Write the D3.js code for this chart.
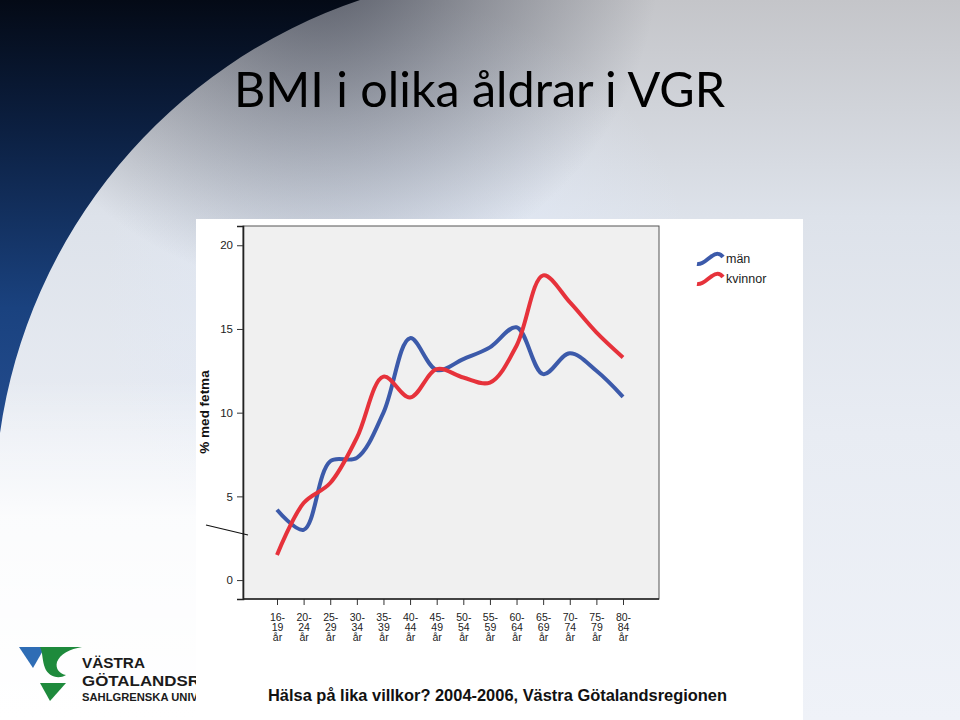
<!DOCTYPE html>
<html><head><meta charset="utf-8">
<script src="https://cdn.jsdelivr.net/npm/d3@7"></script>
<style>html,body{margin:0;padding:0;overflow:hidden;background:#fff}</style>
</head><body>
<svg id="c" width="960" height="720"></svg>
<script>
const categories = ["16-19","20-24","25-29","30-34","35-39","40-44","45-49","50-54","55-59","60-64","65-69","70-74","75-79","80-84"];
const manValues = [4.2, 3.0, 7.1, 7.3, 10.0, 14.45, 12.55, 13.2, 13.9, 15.1, 12.3, 13.55, 12.5, 10.95];
const kvinnorValues = [1.5, 4.6, 5.8, 8.5, 12.15, 10.9, 12.6, 12.1, 11.8, 14.0, 18.2, 16.6, 14.8, 13.3];
const yTicks = [0, 5, 10, 15, 20];
const seriesNames = ["män", "kvinnor"];
const seriesColors = ["#3c5aaa", "#e6323b"];

const svg = d3.select("#c");
const defs = svg.append("defs");

// slide background
const bg = defs.append("linearGradient").attr("id","base").attr("x1",0).attr("y1",0).attr("x2",0).attr("y2",1);
bg.append("stop").attr("offset",0).attr("stop-color","#c4c5c9");
bg.append("stop").attr("offset",0.3).attr("stop-color","#dde2ea");
bg.append("stop").attr("offset",0.6).attr("stop-color","#e8ecf3");
bg.append("stop").attr("offset",1).attr("stop-color","#eff2f8");
svg.append("rect").attr("width",960).attr("height",720).attr("fill","url(#base)");
const lg = defs.append("radialGradient").attr("id","bluelight").attr("gradientUnits","userSpaceOnUse")
  .attr("cx",400).attr("cy",300).attr("r",300);
lg.append("stop").attr("offset",0).attr("stop-color","#e2eaf8").attr("stop-opacity",0.9);
lg.append("stop").attr("offset",1).attr("stop-color","#e2eaf8").attr("stop-opacity",0);
svg.append("rect").attr("width",960).attr("height",720).attr("fill","url(#bluelight)");
const tg = defs.append("radialGradient").attr("id","topdark").attr("gradientUnits","userSpaceOnUse")
  .attr("cx",320).attr("cy",-50).attr("r",340);
tg.append("stop").attr("offset",0).attr("stop-color","#3f4452").attr("stop-opacity",0.85);
tg.append("stop").attr("offset",0.5).attr("stop-color","#3f4452").attr("stop-opacity",0.4);
tg.append("stop").attr("offset",1).attr("stop-color","#3f4452").attr("stop-opacity",0);
svg.append("rect").attr("width",960).attr("height",720).attr("fill","url(#topdark)");
const wg = defs.append("linearGradient").attr("id","whitebl").attr("x1",0).attr("y1",0).attr("x2",0).attr("y2",1);
wg.append("stop").attr("offset",0).attr("stop-color","#ffffff").attr("stop-opacity",0);
wg.append("stop").attr("offset",0.4).attr("stop-color","#ffffff").attr("stop-opacity",0.8);
wg.append("stop").attr("offset",1).attr("stop-color","#ffffff").attr("stop-opacity",1);
svg.append("rect").attr("x",0).attr("y",380).attr("width",300).attr("height",340).attr("fill","url(#whitebl)");

// dark arc region (outside big circle)
const dg = defs.append("linearGradient").attr("id","dark").attr("gradientUnits","userSpaceOnUse")
  .attr("x1",0).attr("y1",0).attr("x2",0).attr("y2",440);
dg.append("stop").attr("offset",0).attr("stop-color","#040a16");
dg.append("stop").attr("offset",0.3).attr("stop-color","#0c2042");
dg.append("stop").attr("offset",0.7).attr("stop-color","#1a427f");
dg.append("stop").attr("offset",1).attr("stop-color","#244d90");
const r = 536;
svg.append("path").attr("fill","url(#dark)")
  .attr("d",`M0,0 L360,0 A${r},${r} 0 0 0 0,433 Z`);

// logo
const clip = defs.append("clipPath").attr("id","logoclip");
clip.append("rect").attr("x",0).attr("y",630).attr("width",196).attr("height",90);
const logo = svg.append("g").attr("clip-path","url(#logoclip)");
logo.append("polygon").attr("points","19,647 45,647 33,668").attr("fill","#2f6db5");
logo.append("path").attr("fill","#1e8a3c")
  .attr("d","M40,647 L82,647 C70,649 60,654 57,662 C55,669 60,674 66,675 C58,680 48,676 45,668 C42,661 43,653 40,647 Z");
logo.append("polygon").attr("points","40,683 66,683 50,701").attr("fill","#1e8a3c");
logo.append("text").attr("x",82).attr("y",668).attr("font-family","Liberation Sans, Arial").attr("font-size",15)
  .attr("font-weight","bold").attr("fill","#1b1b1b").attr("textLength",63).attr("lengthAdjust","spacingAndGlyphs").text("VÄSTRA");
logo.append("text").attr("x",82).attr("y",686).attr("font-family","Liberation Sans, Arial").attr("font-size",15)
  .attr("font-weight","bold").attr("fill","#1b1b1b").attr("textLength",118).attr("lengthAdjust","spacingAndGlyphs").text("GÖTALANDSR");
logo.append("text").attr("x",82).attr("y",701).attr("font-family","Liberation Sans, Arial").attr("font-size",10)
  .attr("font-weight","bold").attr("fill","#1b1b1b").attr("textLength",116).attr("lengthAdjust","spacingAndGlyphs").text("SAHLGRENSKA UNIV");

// title
svg.append("text").attr("x",234).attr("y",107).attr("font-family","Lato, 'Open Sans', sans-serif")
  .attr("font-size",49).attr("fill","#000").attr("textLength",491).attr("lengthAdjust","spacingAndGlyphs")
  .text("BMI i olika åldrar i VGR");

// white panel
svg.append("rect").attr("x",196).attr("y",219).attr("width",607).attr("height",501).attr("fill","#ffffff");

// chart
const plot = {left:243, right:659, top:226, bottom:599};
const x = d3.scalePoint().domain(categories).range([277, 623]);
const y = d3.scaleLinear().domain([-1.13, 21.15]).range([plot.bottom, plot.top]);

svg.append("rect").attr("x",plot.left).attr("y",plot.top).attr("width",plot.right-plot.left)
  .attr("height",plot.bottom-plot.top).attr("fill","#f0f0f0").attr("stroke","#555").attr("stroke-width",1);

const yAxis = svg.append("g").attr("transform",`translate(${plot.left},0)`)
  .call(d3.axisLeft(y).tickValues(yTicks).tickSize(6).tickPadding(4));
yAxis.select(".domain").attr("stroke","#222").attr("stroke-width",1.6);
yAxis.selectAll(".tick line").attr("stroke","#333");
yAxis.selectAll(".tick text").attr("font-family","Liberation Sans, Arial").attr("font-size",11.5).attr("fill","#222");

const xAxis = svg.append("g").attr("transform",`translate(0,${plot.bottom})`)
  .call(d3.axisBottom(x).tickSize(6).tickFormat(""));
xAxis.select(".domain").remove();
svg.append("line").attr("x1",plot.left).attr("x2",plot.right).attr("y1",plot.bottom).attr("y2",plot.bottom)
  .attr("stroke","#222").attr("stroke-width",1.6);
xAxis.selectAll(".tick line").attr("stroke","#333");
xAxis.selectAll(".tick").each(function(d){
  const parts = d.split("-");
  const t = d3.select(this).append("text").attr("fill","#222").attr("font-family","Liberation Sans, Arial")
    .attr("font-size",10.5).attr("text-anchor","middle");
  t.append("tspan").attr("x",0).attr("y",22).text(parts[0]+"-");
  t.append("tspan").attr("x",0).attr("y",32).text(parts[1]);
  t.append("tspan").attr("x",0).attr("y",42).text("år");
});

svg.append("text").attr("transform",`translate(209,412) rotate(-90)`).attr("text-anchor","middle")
  .attr("font-family","Liberation Sans, Arial").attr("font-weight","bold").attr("font-size",13.5).attr("fill","#111")
  .text("% med fetma");

const line = d3.line().x((d,i)=>x(categories[i])).y(d=>y(d)).curve(d3.curveCatmullRom.alpha(0.5));
[manValues, kvinnorValues].forEach((vals,k)=>{
  svg.append("path").datum(vals).attr("d",line).attr("fill","none")
    .attr("stroke",seriesColors[k]).attr("stroke-width",4).attr("stroke-linecap","butt");
});

// legend
seriesNames.forEach((n,k)=>{
  const oy = k*20;
  svg.append("path").attr("d",`M697,${264+oy} C703,${265+oy} 707,${259+oy} 712,${256+oy} C716,${253+oy} 720,${253+oy} 723,${257+oy}`)
    .attr("fill","none").attr("stroke",seriesColors[k]).attr("stroke-width",4);
  svg.append("text").attr("x",726).attr("y",263+oy).attr("font-family","Liberation Sans, Arial")
    .attr("font-size",12.5).attr("fill","#222").text(n);
});

// stray line
svg.append("line").attr("x1",206).attr("y1",525).attr("x2",248).attr("y2",535).attr("stroke","#111").attr("stroke-width",1.2);

// footer
svg.append("text").attr("x",268).attr("y",701).attr("font-family","Liberation Sans, Arial").attr("font-weight","bold")
  .attr("font-size",16.5).attr("fill","#111").attr("textLength",459).attr("lengthAdjust","spacingAndGlyphs")
  .text("Hälsa på lika villkor? 2004-2006, Västra Götalandsregionen");
</script>
</body></html>
